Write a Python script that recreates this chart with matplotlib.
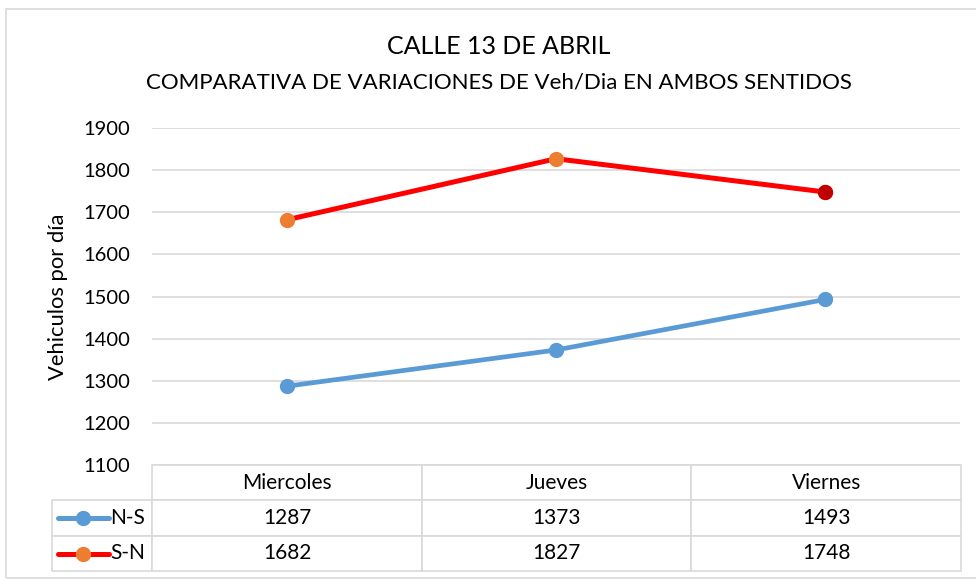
import numpy as np
import matplotlib.pyplot as plt
from matplotlib.lines import Line2D
from matplotlib.patches import Rectangle

plt.rcParams['font.family'] = ['Lato', 'DejaVu Sans']

# datos
dias = ['Miercoles', 'Jueves', 'Viernes']
ns = [1287, 1373, 1493]
sn = [1682, 1827, 1748]
series = ['N-S', 'S-N']
yticks = [1100, 1200, 1300, 1400, 1500, 1600, 1700, 1800, 1900]

W, H = 976, 581
fig = plt.figure(figsize=(W / 100, H / 100), dpi=100)

# marco del grafico
fig.patches.append(Rectangle((6 / W, 1 - 578 / H), 975 / W, 569 / H, transform=fig.transFigure,
                             fill=False, edgecolor='#d9d9d9', linewidth=1.2))

# area del grafico en pixeles
x0, x1 = 152, 960
ytop, ybot = 128, 465
ax = fig.add_axes([x0 / W, 1 - ybot / H, (x1 - x0) / W, (ybot - ytop) / H])

x = np.arange(len(dias))
ax.plot(x, ns, color='#5b9bd5', linewidth=3.4, marker='o', markersize=10,
        markerfacecolor='#5b9bd5', markeredgecolor='#5b9bd5', zorder=3)
ax.plot(x, sn, color='#ff0000', linewidth=3.6, marker='o', markersize=10,
        markerfacecolor='#ed7d31', markeredgecolor='#ed7d31', zorder=3)
# ultimo punto S-N en rojo oscuro
ax.plot(x[-1], sn[-1], 'o', markersize=10, color='#c00000', zorder=4)

ax.set_xlim(-0.5, len(dias) - 0.5)
ax.set_ylim(1100, 1900)
ax.set_yticks(yticks)
ax.set_yticklabels([str(v) for v in yticks], fontsize=14.5)
ax.set_xticks([])
ax.tick_params(axis='y', length=0, pad=16)
ax.grid(axis='y', color='#d9d9d9', linewidth=1.2)
ax.set_axisbelow(True)
for s in ax.spines.values():
    s.set_visible(False)
ax.set_ylabel('Vehiculos por día', fontsize=15.8)
ax.yaxis.set_label_coords((68 - x0) / (x1 - x0), 0.5)

# tabla de datos (primera columna = nombres de series)
tx0, tx1 = 52, 961
tb = 571
celltext = [[series[0]] + [str(v) for v in ns], [series[1]] + [str(v) for v in sn]]
anchos = [100, 269, 269, 269]
bbox = [(tx0 - x0) / (x1 - x0), -(tb - ybot) / (ybot - ytop),
        (tx1 - tx0) / (x1 - x0), (tb - ybot) / (ybot - ytop)]
tabla = ax.table(cellText=celltext, colLabels=[''] + dias, cellLoc='center',
                 colWidths=[a / sum(anchos) for a in anchos], bbox=bbox)
tabla.auto_set_font_size(False)
tabla.set_fontsize(15)
for (r, c), cell in tabla.get_celld().items():
    cell.set_edgecolor('#d9d9d9')
    cell.set_linewidth(1.2)
    if c == 0:
        cell.PAD = 0.07
        cell.get_text().set_ha('right')
        cell._loc = 'right'
        if r == 0:
            cell.set_edgecolor('none')

# simbolos de leyenda en la tabla
colores = [('#5b9bd5', '#5b9bd5'), ('#ff0000', '#ed7d31')]
for i, (lc, mc) in enumerate(colores):
    yc = 1 - (518 + 36 * i) / H
    fig.add_artist(Line2D([58 / W, 109 / W], [yc, yc], transform=fig.transFigure,
                          color=lc, linewidth=3.6, solid_capstyle='round'))
    fig.add_artist(Line2D([83 / W], [yc], transform=fig.transFigure, marker='o',
                          markersize=10, color=mc, linestyle='none'))

fig.text(499 / W, 1 - 47 / H, 'CALLE 13 DE ABRIL', ha='center', va='center', fontsize=18)
fig.text(499 / W, 1 - 83 / H, 'COMPARATIVA DE VARIACIONES DE Veh/Dia EN AMBOS SENTIDOS',
         ha='center', va='center', fontsize=16)

fig.savefig('out.png', dpi=100)
